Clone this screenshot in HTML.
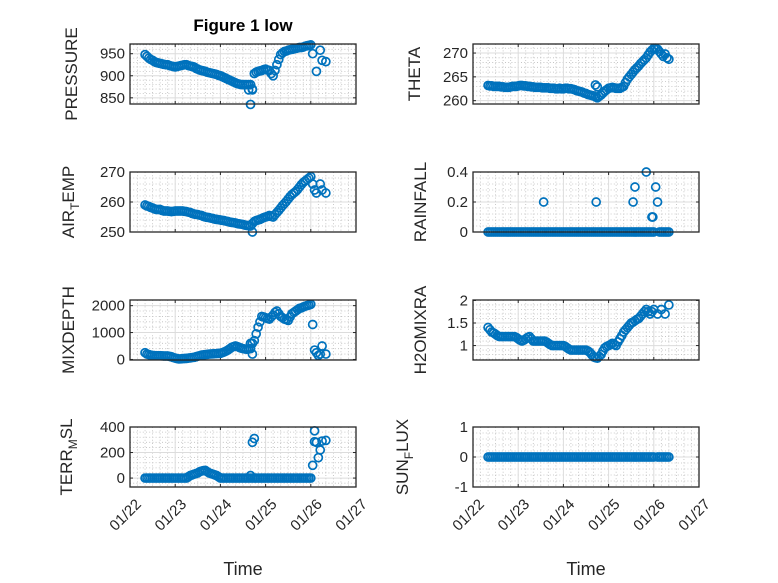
<!DOCTYPE html>
<html><head><meta charset="utf-8"><style>
html,body{margin:0;padding:0;background:#fff;}
svg{display:block;font-family:"Liberation Sans",sans-serif;}
</style></head><body>
<svg id="fig" width="778" height="583" viewBox="0 0 778 583"></svg>
<script>
const hours = [8,10,12,14,16,18,20,22,24,26,28,30,32,34,36,38,40,42,44,46,48,50,52,54,56,58,60,62,64,66,68,70,72,74,76,78,80,82,84,86,88,90,92,94,96];
const hoursB = [9,11,13,15,17,19,21,23,25,27,29,31,33,35,37,39,41,43,45,47,49,51,53,55,57,59,61,63,65,67,69,71,73,75,77,79,81,83,85,87,89,91,93,95];
const xTickLabels = ["01/22","01/23","01/24","01/25","01/26","01/27"];

const pressureVals = [948,940,935,930,928,926,925,922,920,922,924,925,922,920,915,912,910,907,905,903,900,896,892,888,884,881,880,880,880,905,910,912,915,912,900,925,948,955,958,960,962,964,965,968,970];
const pressureValsB = [944,937,932,929,927,925,923,921,921,923,925,923,921,917,913,911,908,906,904,901,898,894,890,886,882,880,880,880,870,908,911,914,913,905,912,937,952,956,959,961,963,964,967,969];
const pressureExtraH = [63,64,65,97,99,101,102,104];
const pressureExtraV = [868,835,868,950,910,958,935,932];

const airVals = [259,258.5,258,257.5,257.5,257,257,256.8,257,257,257,256.8,256.5,256,255.8,255.5,255,254.8,254.5,254.2,254,253.8,253.5,253.2,253,252.7,252.5,252.2,252,253.5,254,254.5,255,255.5,255,256.5,258,259.5,261,262.5,263.5,265,266.5,267.5,268.5];
const airValsB = [258.7,258.2,257.7,257.5,257.2,257,256.9,256.9,257,257,256.9,256.6,256.2,255.9,255.6,255.2,254.9,254.6,254.3,254.1,253.9,253.6,253.3,253.1,252.8,252.6,252.3,252.1,252.8,253.8,254.2,254.8,255.2,255.2,255.8,257.2,258.8,260.2,261.8,263,264.2,265.8,267,268];
const airExtraH = [65,97,98,99,101,102,104];
const airExtraV = [250,266,264,263,266,264,263];

const mixVals = [250,180,150,140,140,130,130,100,50,20,30,40,60,80,120,160,180,200,210,220,230,280,350,450,500,450,400,380,400,700,1200,1600,1550,1500,1650,1800,1600,1500,1450,1700,1800,1900,1950,2000,2050];
const mixValsB = [200,160,145,140,135,130,115,70,30,25,35,50,70,100,140,170,190,205,215,225,250,310,400,480,480,420,390,390,600,950,1400,1580,1520,1580,1750,1700,1550,1480,1580,1750,1850,1920,1980,2020];
const mixExtraH = [64,65,97,98,99,100,101,102,104];
const mixExtraV = [600,200,1300,350,250,150,200,500,200];

const terrVals = [0,0,0,0,0,0,0,0,0,0,0,0,20,30,40,55,60,40,30,20,0,0,0,0,0,0,0,0,0,0,0,0,0,0,0,0,0,0,0,0,0,0,0,0,0];
const terrValsB = [0,0,0,0,0,0,0,0,0,0,0,10,25,35,50,58,50,35,25,10,0,0,0,0,0,0,0,0,0,0,0,0,0,0,0,0,0,0,0,0,0,0,0,0];
const terrExtraH = [64,65,66,97,98,98,99,100,101,102,104];
const terrExtraV = [20,280,310,100,370,285,280,160,220,290,295];

const thetaVals = [263.2,263.1,263,263,262.9,262.8,262.9,263,263.1,263.2,263.1,263,262.9,262.8,262.8,262.7,262.7,262.6,262.5,262.6,262.5,262.6,262.5,262.3,262,261.8,261.5,261.2,261,260.6,261.2,262,262.6,262.8,262.6,262.6,263,264.5,265.5,266.5,267.3,268.2,269,270.2,271];
const thetaValsB = [263.1,263,263,262.9,262.8,262.8,263,263,263.2,263.1,263,262.9,262.8,262.8,262.7,262.7,262.6,262.6,262.5,262.5,262.6,262.5,262.4,262.1,261.9,261.6,261.3,261.1,260.8,260.9,261.6,262.3,262.7,262.7,262.6,262.8,263.8,265,266,266.9,267.8,268.6,269.6,270.6];
const thetaExtraH = [65,66,97,98,99,100,101,102,103,104];
const thetaExtraV = [263.3,262.9,271,270.8,270.3,269.8,269.3,269.8,269,268.7];

const rainVals = [0,0,0,0,0,0,0,0,0,0,0,0,0,0,0,0,0,0,0,0,0,0,0,0,0,0,0,0,0,0,0,0,0,0,0,0,0,0,0,0,0,0,0,0,0];
const rainValsB = [0,0,0,0,0,0,0,0,0,0,0,0,0,0,0,0,0,0,0,0,0,0,0,0,0,0,0,0,0,0,0,0,0,0,0,0,0,0,0,0,0,0,0,0];
const rainExtraH = [37.5,65.4,85,86,92,95,95.5,97,98,99,100,101,102,103,104];
const rainExtraV = [0.2,0.2,0.2,0.3,0.4,0.1,0.1,0.3,0.2,0,0,0,0,0,0];

const h2oVals = [1.4,1.3,1.25,1.2,1.2,1.2,1.2,1.2,1.15,1.1,1.15,1.2,1.1,1.1,1.1,1.1,1.05,1.0,1.0,1.0,1.0,0.95,0.9,0.9,0.9,0.9,0.9,0.85,0.75,0.72,0.8,0.95,1.0,1.05,1.0,1.15,1.3,1.4,1.5,1.55,1.6,1.7,1.8,1.7,1.8];
const h2oValsB = [1.35,1.28,1.22,1.2,1.2,1.2,1.2,1.18,1.12,1.12,1.18,1.15,1.1,1.1,1.1,1.08,1.02,1.0,1.0,1.0,0.98,0.92,0.9,0.9,0.9,0.9,0.88,0.8,0.73,0.76,0.88,0.98,1.02,1.02,1.08,1.22,1.35,1.45,1.52,1.58,1.65,1.75,1.75,1.75];
const h2oExtraH = [98,100,102,104];
const h2oExtraV = [1.7,1.8,1.7,1.9];

const sunVals = [0,0,0,0,0,0,0,0,0,0,0,0,0,0,0,0,0,0,0,0,0,0,0,0,0,0,0,0,0,0,0,0,0,0,0,0,0,0,0,0,0,0,0,0,0];
const sunValsB = [0,0,0,0,0,0,0,0,0,0,0,0,0,0,0,0,0,0,0,0,0,0,0,0,0,0,0,0,0,0,0,0,0,0,0,0,0,0,0,0,0,0,0,0];
const sunExtraH = [98,99,100,101,102,103,104];
const sunExtraV = [0,0,0,0,0,0,0];

const NS = "http://www.w3.org/2000/svg";
const svg = document.getElementById("fig");
function mk(tag, attrs, parent){
  const e = document.createElementNS(NS, tag);
  for (const k in attrs) e.setAttribute(k, attrs[k]);
  (parent||svg).appendChild(e);
  return e;
}
const TXT = "#262626";

const panels = [
  {key:"pressure", col:0, row:0, label:["PRESSURE"], ylim:[836,972], ticks:[850,900,950], vals:pressureVals, valsB:pressureValsB, eh:pressureExtraH, ev:pressureExtraV, lx:71},
  {key:"theta", col:1, row:0, label:["THETA"], ylim:[259.3,271.9], ticks:[260,265,270], vals:thetaVals, valsB:thetaValsB, eh:thetaExtraH, ev:thetaExtraV, lx:414},
  {key:"air-temp", col:0, row:1, label:["AIR","T","EMP"], ylim:[250,270], ticks:[250,260,270], vals:airVals, valsB:airValsB, eh:airExtraH, ev:airExtraV, lx:68},
  {key:"rainfall", col:1, row:1, label:["RAINFALL"], ylim:[0,0.4], ticks:[0,0.2,0.4], vals:rainVals, valsB:rainValsB, eh:rainExtraH, ev:rainExtraV, lx:420},
  {key:"mixdepth", col:0, row:2, label:["MIXDEPTH"], ylim:[-20,2210], ticks:[0,1000,2000], vals:mixVals, valsB:mixValsB, eh:mixExtraH, ev:mixExtraV, lx:68},
  {key:"h2omixra", col:1, row:2, label:["H2OMIXRA"], ylim:[0.68,2.01], ticks:[1,1.5,2], vals:h2oVals, valsB:h2oValsB, eh:h2oExtraH, ev:h2oExtraV, lx:420},
  {key:"terr-msl", col:0, row:3, label:["TERR","M","SL"], ylim:[-70,400], ticks:[0,200,400], vals:terrVals, valsB:terrValsB, eh:terrExtraH, ev:terrExtraV, lx:66},
  {key:"sun-flux", col:1, row:3, label:["SUN","F","LUX"], ylim:[-1,1], ticks:[-1,0,1], vals:sunVals, valsB:sunValsB, eh:sunExtraH, ev:sunExtraV, lx:402}
];
const colX = [130, 473], W = 226;
const rowY = [44, 172, 300, 427], H = 60;

panels.forEach(p=>{
  const x0 = colX[p.col], y0 = rowY[p.row];
  const g = mk("g", {});
  
  
  const xs = h => x0 + (h/24)/5*W;
  const ys = v => y0 + H - (v - p.ylim[0])/(p.ylim[1]-p.ylim[0])*H;
  for (let d=0; d<5; d++) for (let m=1; m<6; m++){
    const x = xs(d*24 + m*4);
    const l = mk("line",{x1:x,x2:x,y1:y0,y2:y0+H,stroke:"#bdbdbd","stroke-width":0.8,"stroke-dasharray":"1 2.2"},g);
    
    
  }
  const step = p.ticks[1]-p.ticks[0], ms = step/5;
  for (let v = p.ticks[0]-step; v <= p.ticks[p.ticks.length-1]+step; v += ms){
    if (v <= p.ylim[0] || v >= p.ylim[1]) continue;
    if (Math.abs((v - p.ticks[0])/step - Math.round((v - p.ticks[0])/step)) < 1e-6) continue;
    const y = ys(v);
    const l = mk("line",{x1:x0,x2:x0+W,y1:y,y2:y,stroke:"#bdbdbd","stroke-width":0.8,"stroke-dasharray":"1 2.2"},g);
    
    
  }
  for (let d=1; d<5; d++){
    const x = xs(d*24);
    const l = mk("line",{x1:x,x2:x,y1:y0,y2:y0+H,stroke:"#dcdcdc","stroke-width":1},g);
    
    
  }
  p.ticks.forEach(t=>{
    const y = ys(t);
    if (y > y0+0.5 && y < y0+H-0.5){
      const l = mk("line",{x1:x0,x2:x0+W,y1:y,y2:y,stroke:"#dcdcdc","stroke-width":1},g);
      
      
    }
    const tk = mk("text",{x:x0-5,y:y+5,"text-anchor":"end","font-size":15,fill:TXT},g);
    tk.textContent = String(t);
    
    
    mk("line",{x1:x0,x2:x0+3,y1:y,y2:y,stroke:TXT,"stroke-width":1},g);
    mk("line",{x1:x0+W,x2:x0+W-3,y1:y,y2:y,stroke:TXT,"stroke-width":1},g);
  });
  for (let d=0; d<=5; d++){
    const x = xs(d*24);
    mk("line",{x1:x,x2:x,y1:y0+H,y2:y0+H-3,stroke:TXT,"stroke-width":1},g);
    mk("line",{x1:x,x2:x,y1:y0,y2:y0+3,stroke:TXT,"stroke-width":1},g);
  }
  const mg = mk("g",{fill:"none",stroke:"#0072BD","stroke-width":1.7},g);
  
  
  const allH = hours.concat(hoursB, p.eh), allV = p.vals.concat(p.valsB, p.ev);
  allH.forEach((h,i)=>{
    const c = mk("circle",{cx:xs(h),cy:ys(allV[i]),r:4},mg);
    
    
  });
  const b = mk("rect",{x:x0,y:y0,width:W,height:H,fill:"none",stroke:TXT,"stroke-width":1.3},g);
  
  
  const cy = y0 + H/2;
  const yl = mk("text",{x:p.lx,y:cy,"text-anchor":"middle","font-size":17,fill:TXT,transform:`rotate(-90 ${p.lx} ${cy})`,dy:6},g);
  
  
  if (p.label.length===1) yl.textContent = p.label[0];
  else {
    const a = mk("tspan",{},yl); a.textContent = p.label[0];
    const s = mk("tspan",{dy:5,"font-size":12},yl); s.textContent = p.label[1];
    const c2 = mk("tspan",{dy:-5},yl); c2.textContent = p.label[2];
  }
  if (p.row===3){
    xTickLabels.forEach((lab,d)=>{
      const x = xs(d*24) + 5, y = y0+H+11;
      const t = mk("text",{x:x,y:y,"text-anchor":"end","font-size":15,fill:TXT,transform:`rotate(-45 ${x} ${y})`,dy:10},g);
      t.textContent = lab;
      
      
    });
    const xt = mk("text",{x:x0+W/2,y:575,"text-anchor":"middle","font-size":18,fill:TXT},g);
    xt.textContent = "Time";
    
    
  }
});
const title = mk("text",{x:243,y:31,"text-anchor":"middle","font-size":17,"font-weight":"bold",fill:"#000"});
title.textContent = "Figure 1 low";


</script>
</body></html>
